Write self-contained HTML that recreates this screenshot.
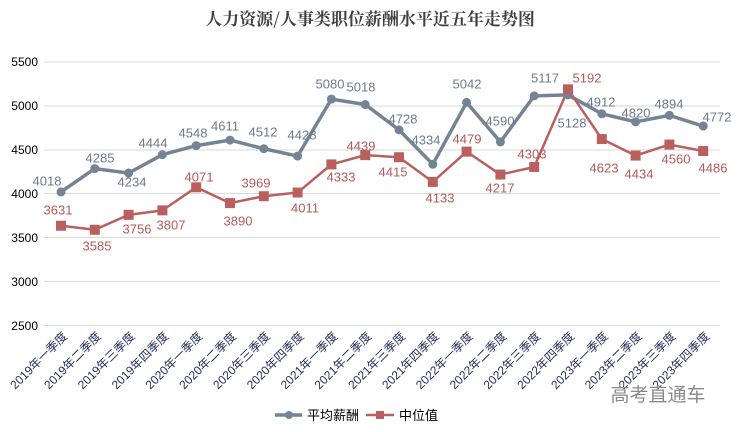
<!DOCTYPE html>
<html><head><meta charset="utf-8"><style>body{margin:0;background:#fff}svg{display:block}</style></head><body>
<svg width="741" height="432" xmlns="http://www.w3.org/2000/svg" font-family="Liberation Sans, 'Noto Sans CJK SC', sans-serif">
<text x="370" y="25" text-anchor="middle" font-family="'Noto Serif CJK SC', serif" font-weight="bold" font-size="17" fill="#404040">人力资源/人事类职位薪酬水平近五年走势图</text>
<g stroke="#d9d9d9" stroke-width="1">
<line x1="44" x2="720" y1="62" y2="62"/><line x1="44" x2="720" y1="106" y2="106"/><line x1="44" x2="720" y1="150" y2="150"/><line x1="44" x2="720" y1="193.5" y2="193.5"/><line x1="44" x2="720" y1="237.5" y2="237.5"/><line x1="44" x2="720" y1="281.5" y2="281.5"/><line x1="44" x2="720" y1="325.5" y2="325.5"/>
</g>
<g font-size="12" fill="#000" text-anchor="end">
<text x="38" y="66">5500</text><text x="38" y="110">5000</text><text x="38" y="154">4500</text><text x="38" y="198">4000</text><text x="38" y="242">3500</text><text x="38" y="286">3000</text><text x="38" y="330">2500</text>
</g>
<g id="xl" font-size="12" fill="#1f2d5a" text-anchor="end" font-family="Liberation Sans, 'Noto Sans CJK SC', sans-serif"></g>
<polyline id="gl" fill="none" stroke="#758494" stroke-width="3.5" stroke-linejoin="round"/>
<polyline id="rl" fill="none" stroke="#b9605f" stroke-width="2.5" stroke-linejoin="round"/>
<g id="mk"></g>
<g id="lb" font-size="13"></g>
<text x="658" y="401" text-anchor="middle" font-size="19" fill="#8a8a8a" font-family="'Noto Sans CJK SC', sans-serif">高考直通车</text>
<line x1="275" x2="302" y1="415" y2="415" stroke="#758494" stroke-width="3.5"/><circle cx="289" cy="415" r="4" fill="#758494"/>
<text x="307" y="420" font-size="13" fill="#000" font-family="'Noto Sans CJK SC', sans-serif">平均薪酬</text>
<line x1="366" x2="394" y1="415" y2="415" stroke="#b9605f" stroke-width="2.5"/><rect x="376" y="411" width="8" height="8" fill="#b9605f"/>
<text x="399" y="420" font-size="13" fill="#000" font-family="'Noto Sans CJK SC', sans-serif">中位值</text>
<script>
var g=[4018,4285,4234,4444,4548,4611,4512,4428,5080,5018,4728,4334,5042,4590,5117,5128,4912,4820,4894,4772];
var r=[3631,3585,3756,3807,4071,3890,3969,4011,4333,4439,4415,4133,4479,4217,4303,5192,4623,4434,4560,4486];
var gp=[[47,181],[100,158],[132,182],[153,143],[193,133],[225,126],[263,132],[302,135],[330,84],[361,87],[403,119],[426,140],[467,84],[500,121],[545,78],[572,123],[601,102],[636,113],[669,104],[717,117]];
var rp=[[58,210],[97,246],[137,229],[171,225],[199,177],[238,221],[256,183],[305,208],[341,177],[361,146],[393,172],[440,198],[467,139],[500,188],[532,154],[587,78],[604,168],[639,174],[676,159],[713,168]];
function X(i){return 61+i*33.8}function Y(v){return 193.5-(v-4000)*0.0874}
var ns="http://www.w3.org/2000/svg";
document.getElementById('gl').setAttribute('points',g.map(function(v,i){return X(i)+','+Y(v)}).join(' '));
document.getElementById('rl').setAttribute('points',r.map(function(v,i){return X(i)+','+Y(v)}).join(' '));
var mk=document.getElementById('mk'),lb=document.getElementById('lb'),xl=document.getElementById('xl');
var q=['一','二','三','四'];
for(var i=0;i<20;i++){
 var c=document.createElementNS(ns,'circle');c.setAttribute('cx',X(i));c.setAttribute('cy',Y(g[i]));c.setAttribute('r',4.5);c.setAttribute('fill','#758494');mk.appendChild(c);
 var s=document.createElementNS(ns,'rect');s.setAttribute('x',X(i)-5);s.setAttribute('y',Y(r[i])-5);s.setAttribute('width',10);s.setAttribute('height',10);s.setAttribute('fill','#b9605f');mk.appendChild(s);
 var t=document.createElementNS(ns,'text');t.setAttribute('x',gp[i][0]);t.setAttribute('y',gp[i][1]+4.5);t.setAttribute('text-anchor','middle');t.setAttribute('fill','#6b7b8c');t.textContent=g[i];lb.appendChild(t);
 t=document.createElementNS(ns,'text');t.setAttribute('x',rp[i][0]);t.setAttribute('y',rp[i][1]+4.5);t.setAttribute('text-anchor','middle');t.setAttribute('fill','#b45a58');t.textContent=r[i];lb.appendChild(t);
 t=document.createElementNS(ns,'text');var x=X(i)+7,y=337;t.setAttribute('transform','translate('+x+','+y+') rotate(-45)');t.textContent=(2019+Math.floor(i/4))+'年'+q[i%4]+'季度';xl.appendChild(t);
}
</script>
</svg>
</body></html>
